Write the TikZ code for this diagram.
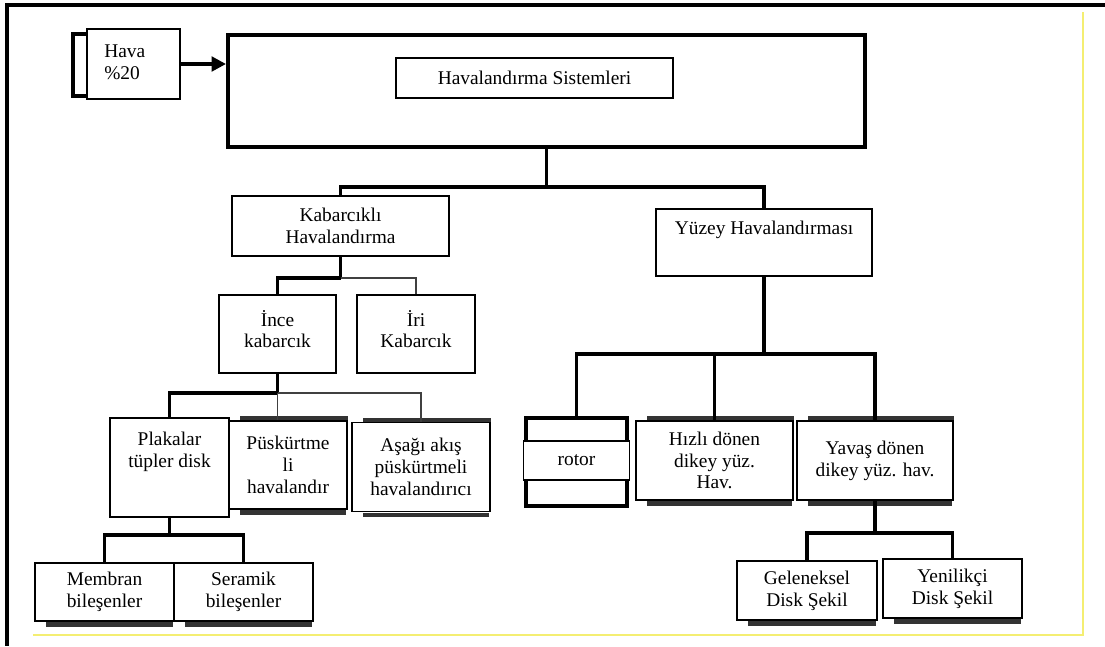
\documentclass[tikz,border=0pt]{standalone}
\usepackage{fontspec}
\setmainfont{Liberation Serif}
\usetikzlibrary{arrows.meta}
\definecolor{sari}{HTML}{F4EE72}
\pgfdeclarelayer{arka}
\pgfsetlayers{arka,main}
\tikzset{
  kutu/.style={draw, line width=1pt, fill=white, align=center, inner sep=0pt},
  boyut/.style 2 args={minimum width=#1*0.025cm, minimum height=#2*0.025cm},
  yazi/.style={align=center, inner sep=0pt},
  kalin/.style={line width=2.6pt},
  hafif/.style={line width=1.4pt, black!75},
  golge/.style={line width=3pt, black!80}
}
\begin{document}
\begin{tikzpicture}[x=0.025cm, y=-0.025cm, font=\fontsize{13.8}{15.5}\selectfont]
\useasboundingbox (0,0) rectangle (1105,646);
% cerceve
\draw[line width=2.2pt] (1105,5) -- (7,5) -- (7,646);
\draw[line width=1.2pt, sari] (33,635) -- (1083,635) -- (1083,12);

\node[kutu, boyut={93}{70}] (hava) at (133.5,64) {};
\node[yazi, align=left, anchor=north west] (havayazi) at (104,45) {Hava\\\%20};
\draw[kalin] (hava.north west) ++(0,6) -- ++(-13,0) -- ++(0,62) -- ++(13,0);

\node[draw, line width=2.8pt, boyut={637}{112}] (buyuk) at (546.5,91) {};
\node[kutu, boyut={277}{40}] (sistem) at (534.5,78) {Havalandırma Sistemleri};
\draw[kalin, -{Triangle[length=0.36cm, width=0.36cm]}] (hava.east) -- (hava.east -| buyuk.west);

\node[kutu, boyut={217}{60}] (kab) at (340.5,226) {Kabarcıklı\\Havalandırma};
\node[kutu, boyut={216}{67}] (yuzey) at (764,242.5) {};
\node[yazi] (yuzeyyazi) at (764,230) {Yüzey Havalandırması};

\node[kutu, boyut={117}{78}] (incek) at (277.5,334) {};
\node[yazi] (incekyazi) at (277.5,329) {İnce\\kabarcık};
\node[kutu, boyut={118}{78}] (irik) at (416,334) {};
\node[yazi] (irikyazi) at (416,329) {İri\\Kabarcık};

\node[kutu, boyut={119}{99}] (plaka) at (169.5,467.5) {};
\node[yazi] (plakayazi) at (169.5,452) {Plakalar\\tüpler disk};
\node[kutu, boyut={118}{88}] (pusk) at (288,465) {Püskürtme\\li\\havalandır};
\node[kutu, boyut={138}{89}] (asagi) at (421,467) {Aşağı akış\\püskürtmeli\\havalandırıcı};

\node[kutu, boyut={139}{58}] (mem) at (104.5,592) {Membran\\bileşenler};
\node[kutu, boyut={139}{58}] (ser) at (243.5,592) {Seramik\\bileşenler};

\node[draw, line width=2.6pt, boyut={101}{88}] (rotor) at (576.5,462) {};
\node[kutu, boyut={106}{39}] (rotoric) at (576.5,460.5) {rotor};
\node[kutu, boyut={157}{79}] (hizli) at (714.5,460.5) {Hızlı dönen\\dikey yüz.\\Hav.};
\node[kutu, boyut={156}{79}] (yavas) at (875,460.5) {Yavaş dönen\\dikey yüz. hav.};

\node[kutu, boyut={140}{59}] (gel) at (807,590.5) {Geleneksel\\Disk Şekil};
\node[kutu, boyut={139}{59}] (yen) at (952.5,588.5) {Yenilikçi\\Disk Şekil};

% baglantilar
\draw[kalin] (buyuk.south) -- ++(0,38) coordinate (d1);
\draw[kalin] (kab.north) |- (d1) -| (yuzey.north);

\draw[kalin] (kab.south) -- ++(0,21) coordinate (d2);
\draw[kalin] (d2) -| (incek.north);
\draw[hafif] (d2) -| (irik.north);

\draw[kalin] (incek.south) -- ++(0,19) coordinate (d3);
\draw[kalin] (d3) -| (plaka.north);
\draw[hafif] (d3) -- (d3 |- pusk.north);
\draw[hafif] (d3) -| (asagi.north);

\draw[kalin] (plaka.south) -- ++(0,17) coordinate (d4);
\draw[kalin] (mem.north) |- (d4) -| (ser.north);

\draw[kalin] (yuzey.south) -- ++(0,77) coordinate (d5);
\draw[kalin] (rotor.north) |- (d5) -| (yavas.north);
\draw[kalin] (d5 -| hizli.north) -- (hizli.north);

\draw[kalin] (yavas.south) -- ++(0,32) coordinate (d6);
\draw[kalin] (gel.north) |- (d6) -| (yen.north);

\begin{pgfonlayer}{arka}
\foreach \n in {pusk,asagi,hizli,yavas}
  \draw[golge] ([xshift=0.3cm,yshift=0.05cm]\n.north west) -- ([yshift=0.05cm]\n.north east);
\foreach \n in {pusk,asagi,hizli,yavas,mem,ser,gel,yen}
  \draw[golge] ([xshift=0.3cm,yshift=-0.07cm]\n.south west) -- ([xshift=-0.05cm,yshift=-0.07cm]\n.south east);
\end{pgfonlayer}
\end{tikzpicture}
\end{document}
